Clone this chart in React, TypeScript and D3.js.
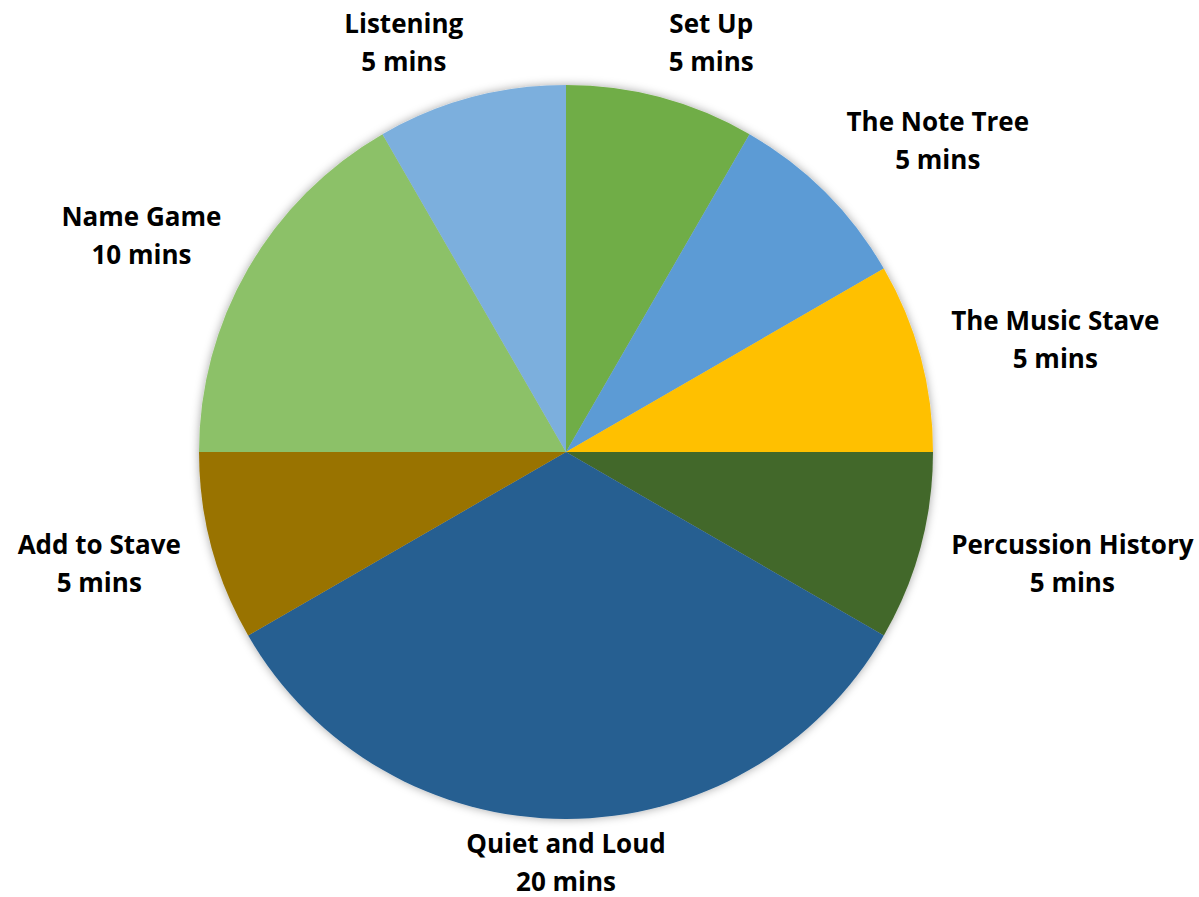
import React from "react";
import * as d3 from "d3";

const categories = ["Set Up", "The Note Tree", "The Music Stave", "Percussion History", "Quiet and Loud", "Add to Stave", "Name Game", "Listening"];
const minutes = [5, 5, 5, 5, 20, 5, 10, 5];
const colors = ["#70AD47", "#5B9BD5", "#FFC000", "#43682B", "#255E91", "#997300", "#8CC168", "#7CAFDD"];

const W = 1199;
const H = 897;
const cx = 566;
const cy = 452;
const R = 367;
const FONT = 26;
const LINE = 38;
const FAMILY = "'Open Sans', Lato, sans-serif";

let ctx: CanvasRenderingContext2D | null = null;
function measure(t: string): number {
  if (!ctx) ctx = document.createElement("canvas").getContext("2d");
  if (!ctx) return t.length * FONT * 0.55;
  ctx.font = `bold ${FONT}px ${FAMILY}`;
  return ctx.measureText(t).width;
}

export default function App() {
  const pie = d3.pie<number>().sort(null).value((d) => d)(minutes);
  const arc = d3.arc<d3.PieArcDatum<number>>().innerRadius(0).outerRadius(R);

  return (
    <svg width={W} height={H} style={{ position: "absolute", left: 0, top: 0, background: "#fff" }}>
      <defs>
        <filter id="sh" x="-20%" y="-20%" width="140%" height="140%">
          <feDropShadow dx="0" dy="0" stdDeviation="5" floodColor="#000" floodOpacity="0.35" />
        </filter>
      </defs>
      <g transform={`translate(${cx},${cy})`}>
        <g filter="url(#sh)">
          {pie.map((p, i) => (
            <path key={i} d={arc(p) || ""} fill={colors[i]} />
          ))}
        </g>
        {pie.map((p, i) => {
          const a = (p.startAngle + p.endAngle) / 2;
          const s = Math.sin(a);
          const c = Math.cos(a);
          const gap = 7 + 22 * Math.sqrt(Math.abs(s));
          const rr = R + gap;
          const px = s * rr;
          const py = -c * rr;
          const label = categories[i];
          const w = Math.max(measure(label), measure(`${minutes[i]} mins`)) + 6;
          const sx = Math.max(-1, Math.min(1, s * 4));
          const x = px + (sx * w) / 2;
          const y = py - (c * LINE * 2) / 2 - (Math.abs(s) > 0.6 && c > 0.6 ? 7 : 0) + (c < -0.9 ? -1 : 0);
          return (
            <text
              key={i}
              x={x}
              y={y}
              textAnchor="middle"
              fontFamily={FAMILY}
              fontWeight="bold"
              fontSize={FONT}
              fill="#000"
            >
              <tspan x={x} dy={-LINE / 2 + 9}>{label}</tspan>
              <tspan x={x} dy={LINE}>{`${minutes[i]} mins`}</tspan>
            </text>
          );
        })}
      </g>
    </svg>
  );
}
